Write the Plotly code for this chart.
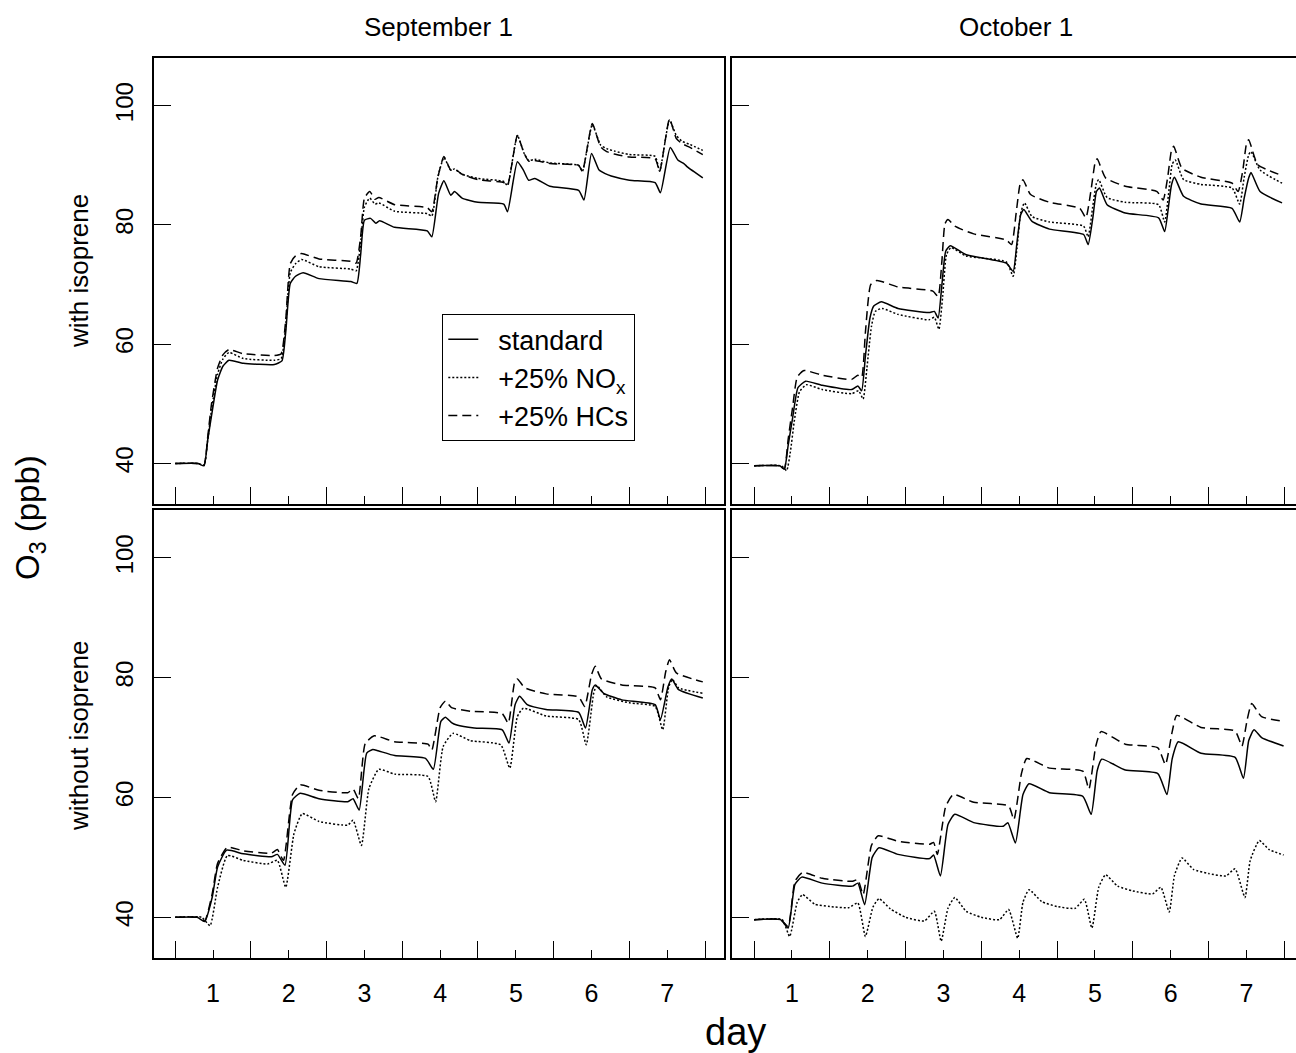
import plotly.graph_objects as go

# ---------------- data (day, O3 ppb) ----------------
sep_iso_std = [(0.5,40),(0.80,40),(0.88,39.6),(0.93,44),(0.98,48),(1.06,54),(1.13,56.3),(1.21,57.3),(1.40,56.8),(1.81,56.6),(1.91,57.2),(1.96,62),(2.02,70.2),(2.09,71.4),(2.19,72.0),(2.40,71.0),(2.82,70.5),(2.90,70.2),(2.95,75),(3.00,80.8),(3.08,81.1),(3.15,80.3),(3.20,80.7),(3.40,79.6),(3.83,79.0),(3.89,78.0),(3.98,85.3),(4.05,87.4),(4.14,85.0),(4.19,85.6),(4.29,84.5),(4.50,83.8),(4.84,83.5),(4.89,82.2),(5.02,90.6),(5.10,89.2),(5.17,87.5),(5.25,87.8),(5.45,86.5),(5.83,85.8),(5.90,84.2),(6.00,92.0),(6.10,89.2),(6.18,88.6),(6.26,88.2),(6.50,87.5),(6.84,87.1),(6.91,85.4),(7.04,93.0),(7.14,90.9),(7.22,90.3),(7.27,89.7),(7.47,87.9)]
sep_iso_nox = [(0.5,40),(0.80,40),(0.88,39.7),(0.93,44),(0.98,49),(1.06,55),(1.13,57.5),(1.21,58.6),(1.40,57.6),(1.81,57.3),(1.90,57.6),(1.96,63),(2.02,72),(2.09,73.5),(2.17,74.2),(2.40,73.0),(2.82,72.6),(2.89,72.3),(2.95,77),(3.00,83),(3.07,84.5),(3.14,83.5),(3.19,83.7),(3.40,82.3),(3.83,81.9),(3.89,81.5),(3.97,88),(4.05,91.3),(4.14,89.2),(4.19,89.4),(4.29,88.5),(4.50,87.8),(4.84,87.3),(4.89,86.6),(5.02,95.0),(5.11,92.0),(5.17,90.8),(5.25,91.0),(5.45,90.4),(5.83,90.0),(5.88,89.0),(6.01,96.8),(6.12,93.4),(6.20,92.8),(6.30,92.4),(6.50,91.8),(6.84,91.5),(6.90,89.0),(7.03,97.6),(7.12,95.0),(7.20,94.0),(7.30,93.5),(7.47,92.5)]
sep_iso_hc = [(0.5,40),(0.80,40),(0.88,39.7),(0.93,44.5),(0.98,50),(1.06,56),(1.13,58.2),(1.21,59.1),(1.40,58.4),(1.81,58.1),(1.90,58.4),(1.96,64),(2.02,73.5),(2.09,74.8),(2.17,75.2),(2.40,74.3),(2.82,73.9),(2.89,73.6),(2.95,78),(3.00,84.5),(3.07,85.6),(3.14,84.3),(3.19,84.6),(3.40,83.4),(3.83,82.9),(3.89,82.2),(3.97,88),(4.05,91.5),(4.14,89.2),(4.19,89.4),(4.29,88.5),(4.50,87.6),(4.84,87.1),(4.89,86.6),(5.02,95.0),(5.11,92.0),(5.17,90.7),(5.25,90.8),(5.45,90.3),(5.83,90.0),(5.88,89.0),(6.01,97.0),(6.12,93.1),(6.20,92.3),(6.30,91.9),(6.50,91.4),(6.84,91.1),(6.90,89.0),(7.03,97.8),(7.12,94.5),(7.20,93.6),(7.30,93.0),(7.47,91.8)]

oct_iso_std = [(0.5,39.6),(0.84,39.6),(0.90,39.05),(0.95,43),(1.01,47.7),(1.08,52.7),(1.18,53.8),(1.40,53.1),(1.79,52.4),(1.87,53.0),(1.92,52.2),(1.97,58),(2.03,64.4),(2.08,66.4),(2.18,67.1),(2.40,66.0),(2.81,65.3),(2.88,65.5),(2.93,64.4),(2.98,70),(3.03,75.6),(3.09,76.5),(3.30,75.0),(3.83,73.6),(3.92,72.2),(3.97,77),(4.02,81.7),(4.06,82.6),(4.17,80.6),(4.40,79.3),(4.85,78.4),(4.91,76.7),(4.97,81),(5.02,85.6),(5.06,86.2),(5.16,83.4),(5.40,82.0),(5.84,81.2),(5.92,78.9),(5.97,83),(6.01,86.7),(6.05,88.0),(6.17,84.8),(6.40,83.5),(6.81,82.8),(6.91,80.5),(6.97,84.5),(7.03,87.9),(7.06,88.8),(7.18,85.6),(7.47,83.7)]
oct_iso_nox = [(0.5,39.6),(0.86,39.6),(0.93,38.8),(0.98,42),(1.03,47),(1.10,52),(1.19,53.2),(1.40,52.4),(1.79,51.7),(1.88,52.2),(1.94,50.8),(1.99,56),(2.05,63),(2.10,65.5),(2.19,66.0),(2.40,65.0),(2.81,64.1),(2.88,64.5),(2.94,62.5),(2.99,68),(3.04,75.0),(3.10,76.2),(3.30,74.8),(3.83,73.8),(3.92,71.4),(3.97,76),(4.02,82),(4.07,83.7),(4.17,81.4),(4.40,80.5),(4.85,79.8),(4.91,78.0),(4.97,83),(5.02,87.0),(5.05,87.6),(5.16,84.6),(5.40,83.8),(5.84,83.4),(5.92,80.5),(5.97,85),(6.02,90.2),(6.06,90.9),(6.17,87.6),(6.40,86.8),(6.81,86.2),(6.91,83.5),(6.97,88),(7.03,91.8),(7.06,92.3),(7.18,89.2),(7.47,87.0)]
oct_iso_hc = [(0.5,39.6),(0.84,39.6),(0.90,39.1),(0.95,44),(1.01,49.5),(1.07,54.5),(1.16,55.6),(1.40,54.8),(1.79,54.1),(1.87,54.8),(1.92,54.4),(1.97,62),(2.04,70.0),(2.12,70.7),(2.40,69.6),(2.86,68.9),(2.93,68.0),(2.98,74),(3.02,80.2),(3.06,80.9),(3.15,79.8),(3.40,78.5),(3.83,77.5),(3.90,76.7),(3.96,82),(4.01,86.7),(4.05,87.6),(4.15,85.1),(4.40,83.8),(4.80,82.8),(4.88,81.2),(4.95,86),(5.00,90.3),(5.03,91.1),(5.14,87.9),(5.40,86.5),(5.82,85.6),(5.90,84.2),(5.96,88),(6.01,92.5),(6.04,93.2),(6.15,89.5),(6.40,88.0),(6.81,87.0),(6.89,85.6),(6.95,89),(7.00,93.6),(7.03,94.3),(7.15,90.1),(7.47,88.3)]

sep_noiso_std = [(0.5,40),(0.79,40),(0.89,39.3),(0.99,43.4),(1.06,48.4),(1.18,51.2),(1.40,50.6),(1.77,50.1),(1.85,50.5),(1.95,48.7),(2.05,59.6),(2.15,60.7),(2.40,59.8),(2.78,59.3),(2.85,59.8),(2.93,57.9),(3.03,67.4),(3.11,68.0),(3.18,67.8),(3.40,67.0),(3.81,66.5),(3.91,64.7),(4.01,72.7),(4.07,73.4),(4.15,72.5),(4.22,72.1),(4.45,71.6),(4.82,71.3),(4.91,69.1),(4.99,75.5),(5.05,76.9),(5.15,75.5),(5.40,74.7),(5.83,74.2),(5.92,71.6),(6.01,78),(6.05,78.8),(6.16,77.4),(6.40,76.3),(6.84,75.5),(6.91,73.0),(7.01,78.5),(7.06,79.8),(7.15,78.0),(7.47,76.6)]
sep_noiso_nox = [(0.5,40),(0.85,40),(0.96,38.6),(1.06,45.0),(1.19,50.3),(1.40,49.5),(1.72,48.9),(1.85,49.5),(1.96,45.0),(2.07,54.0),(2.18,57.3),(2.40,56.0),(2.78,55.4),(2.85,56.2),(2.96,52.0),(3.06,61.5),(3.19,64.7),(3.40,63.9),(3.84,63.5),(3.94,59.3),(4.04,68.5),(4.17,70.7),(4.40,69.5),(4.80,68.8),(4.92,64.9),(5.02,73.5),(5.10,74.9),(5.40,73.6),(5.83,73.0),(5.93,68.8),(6.03,77.5),(6.07,78.7),(6.20,76.8),(6.50,75.8),(6.84,75.2),(6.94,71.3),(7.02,78.5),(7.07,79.7),(7.15,78.3),(7.47,77.4)]
sep_noiso_hc = [(0.5,40),(0.80,40),(0.89,39.4),(0.99,44),(1.06,49),(1.19,51.7),(1.40,51.1),(1.77,50.7),(1.85,51.3),(1.93,49.5),(2.05,60.5),(2.15,62.1),(2.40,61.2),(2.78,60.8),(2.85,61.4),(2.92,59.8),(3.01,69),(3.13,70.3),(3.40,69.3),(3.84,68.9),(3.89,67.9),(4.00,75),(4.07,76.1),(4.15,75.0),(4.40,74.4),(4.82,74.0),(4.90,72.4),(4.98,79),(5.02,79.8),(5.12,78.3),(5.40,77.3),(5.83,76.8),(5.91,75.2),(6.00,80.5),(6.05,81.9),(6.13,79.8),(6.40,78.8),(6.84,78.3),(6.91,76.3),(6.98,81),(7.03,83.0),(7.12,80.8),(7.47,79.3)]

oct_noiso_std = [(0.5,39.6),(0.85,39.6),(0.95,38.2),(1.04,45.5),(1.13,46.7),(1.40,45.7),(1.80,45.2),(1.87,45.7),(1.96,42.1),(2.06,50),(2.15,51.6),(2.40,50.5),(2.82,49.8),(2.87,50.4),(2.96,46.9),(3.06,55.5),(3.15,57.2),(3.40,55.8),(3.79,55.2),(3.85,55.8),(3.95,52.4),(4.05,60.5),(4.13,62.3),(4.40,60.8),(4.84,60.2),(4.95,57.2),(5.03,64.5),(5.09,66.4),(5.40,64.6),(5.83,64.0),(5.95,60.5),(6.02,66.5),(6.10,69.3),(6.40,67.4),(6.85,66.7),(6.96,63.2),(7.03,69.5),(7.10,71.3),(7.20,70.0),(7.49,68.6)]
oct_noiso_nox = [(0.5,39.6),(0.87,39.6),(0.97,36.8),(1.07,42.5),(1.14,43.8),(1.30,42.2),(1.50,41.8),(1.75,41.6),(1.87,42.4),(1.97,36.8),(2.07,41.7),(2.15,43.1),(2.30,41.4),(2.50,40.0),(2.75,39.4),(2.88,41.0),(2.97,36.0),(3.06,41.5),(3.15,43.3),(3.30,41.0),(3.50,40.0),(3.74,39.6),(3.86,41.3),(3.98,36.5),(4.05,42.5),(4.13,44.6),(4.30,42.6),(4.50,41.8),(4.74,41.5),(4.86,43.0),(4.96,38.2),(5.05,45.0),(5.14,47.1),(5.30,45.2),(5.50,44.4),(5.76,43.9),(5.87,45.0),(5.98,40.9),(6.05,47.0),(6.15,49.9),(6.30,48.0),(6.50,47.3),(6.73,46.9),(6.85,48.1),(6.98,43.3),(7.05,49.5),(7.17,52.8),(7.30,51.3),(7.49,50.4)]
oct_noiso_hc = [(0.5,39.6),(0.85,39.6),(0.95,38.5),(1.04,46),(1.14,47.5),(1.40,46.5),(1.80,46.0),(1.87,46.3),(1.94,43.8),(2.05,52),(2.14,53.6),(2.40,52.7),(2.82,52.2),(2.87,52.5),(2.92,50.5),(3.03,58.5),(3.13,60.5),(3.40,59.2),(3.86,58.6),(3.93,56.3),(4.03,64),(4.10,66.5),(4.40,64.9),(4.84,64.4),(4.92,61.4),(5.01,68.5),(5.08,71.0),(5.40,68.9),(5.83,68.3),(5.93,65.5),(6.02,71),(6.08,73.7),(6.40,71.7),(6.85,71.1),(6.94,68.6),(7.01,73),(7.07,75.7),(7.20,73.5),(7.49,72.7)]

series_names = ["standard", "+25% NO<sub>x</sub>", "+25% HCs"]
col_titles = ["September 1", "October 1"]
row_titles = ["with isoprene", "without isoprene"]
x_tick_vals = [1, 2, 3, 4, 5, 6, 7]
x_minor_vals = [0.5, 1.5, 2.5, 3.5, 4.5, 5.5, 6.5, 7.5]
y_tick_vals = [40, 60, 80, 100]

panels = [
    (1, [sep_iso_std, sep_iso_nox, sep_iso_hc]),
    (2, [oct_iso_std, oct_iso_nox, oct_iso_hc]),
    (3, [sep_noiso_std, sep_noiso_nox, sep_noiso_hc]),
    (4, [oct_noiso_std, oct_noiso_nox, oct_noiso_hc]),
]

# ---------------- layout geometry ----------------
W, H = 1296, 1053
ML, MT, MR, MB = 154, 58, 0, 95
PW, PH = W - ML - MR, H - MT - MB
def px(p):
    return (p - ML) / PW
def py(p):
    return (H - MB - p) / PH

FONT = "Liberation Sans, Arial, Helvetica, sans-serif"
dashes = ["solid", "2px,2px", "9px,5px"]
PAD = "\u00a0\u00a0"  # gap between legend sample and label

fig = go.Figure()
for idx, group in panels:
    suf = "" if idx == 1 else str(idx)
    for k, data in enumerate(group):
        xs = [p[0] for p in data]
        ys = [p[1] for p in data]
        fig.add_trace(go.Scatter(
            x=xs, y=ys, mode="lines", name=PAD + series_names[k], legendgroup="g%d" % k,
            line=dict(color="black", width=1.5, dash=dashes[k], shape="spline", smoothing=0.5),
            showlegend=(idx == 1), xaxis="x" + suf, yaxis="y" + suf,
            hoverinfo="skip"))

x_dom_l = [0, px(724)]
x_dom_r = [px(732), 1]
y_dom_t = [py(504), 1]
y_dom_b = [0, py(510)]

def xax(domain, rng, labels, anchor):
    return dict(domain=domain, range=rng, anchor=anchor, showgrid=False, zeroline=False,
                showline=True, linecolor="black", linewidth=1.8, mirror=True,
                ticks="inside", ticklen=8, tickwidth=1.3, tickcolor="black",
                tickmode="array", tickvals=x_tick_vals, ticktext=[str(v) for v in x_tick_vals],
                showticklabels=labels, tickfont=dict(family=FONT, size=25, color="black"),
                ticklabelstandoff=12,
                minor=dict(ticks="inside", ticklen=17, tickwidth=1.3, tickcolor="black",
                           tickmode="array", tickvals=x_minor_vals, showgrid=False))

def yax(domain, labels, mirror, anchor):
    return dict(domain=domain, range=[33.2, 108], anchor=anchor, showgrid=False, zeroline=False,
                showline=True, linecolor="black", linewidth=1.8, mirror=mirror,
                ticks="inside", ticklen=17, tickwidth=1.3, tickcolor="black",
                tickmode="array", tickvals=y_tick_vals, ticktext=[str(v) for v in y_tick_vals],
                showticklabels=labels, tickangle=-90,
                tickfont=dict(family=FONT, size=24, color="black"), ticklabelstandoff=10)

annotations = [
    dict(text=col_titles[0], x=px(438), y=py(27), xref="paper", yref="paper", showarrow=False,
         font=dict(family=FONT, size=26, color="black"), xanchor="center", yanchor="middle"),
    dict(text=col_titles[1], x=px(1016), y=py(27), xref="paper", yref="paper", showarrow=False,
         font=dict(family=FONT, size=26, color="black"), xanchor="center", yanchor="middle"),
    dict(text=row_titles[0], x=px(79), y=py(271), xref="paper", yref="paper", showarrow=False,
         textangle=-90, font=dict(family=FONT, size=26, color="black"), xanchor="center", yanchor="middle"),
    dict(text=row_titles[1], x=px(79), y=py(736), xref="paper", yref="paper", showarrow=False,
         textangle=-90, font=dict(family=FONT, size=26, color="black"), xanchor="center", yanchor="middle"),
    dict(text="O<sub>3</sub> (ppb)", x=px(30), y=py(518), xref="paper", yref="paper", showarrow=False,
         textangle=-90, font=dict(family=FONT, size=33, color="black"), xanchor="center", yanchor="middle"),
    dict(text="day", x=px(735), y=py(1032), xref="paper", yref="paper", showarrow=False,
         font=dict(family=FONT, size=38, color="black"), xanchor="center", yanchor="middle"),
]

fig.update_layout(
    width=W, height=H, margin=dict(l=ML, r=MR, t=MT, b=MB, pad=0),
    paper_bgcolor="white", plot_bgcolor="white",
    font=dict(family=FONT, color="black"),
    xaxis=xax(x_dom_l, [0.22, 7.75], False, "y"),
    yaxis=yax(y_dom_t, True, True, "x"),
    xaxis2=xax(x_dom_r, [0.209, 7.654], False, "y2"),
    yaxis2=yax(y_dom_t, False, False, "x2"),
    xaxis3=xax(x_dom_l, [0.22, 7.75], True, "y3"),
    yaxis3=yax(y_dom_b, True, True, "x3"),
    xaxis4=xax(x_dom_r, [0.209, 7.654], True, "y4"),
    yaxis4=yax(y_dom_b, False, False, "x4"),
    annotations=annotations,
    showlegend=True,
    legend=dict(x=px(442), y=py(314), xanchor="left", yanchor="top",
                bgcolor="white", bordercolor="black", borderwidth=1.3,
                font=dict(family=FONT, size=27, color="black"),
                tracegroupgap=7, itemwidth=30, traceorder="normal"),
)

fig.write_html("out.html", include_plotlyjs=True, config={"displayModeBar": False},
               post_script="document.body.style.margin='0';document.body.style.overflow='hidden';")
